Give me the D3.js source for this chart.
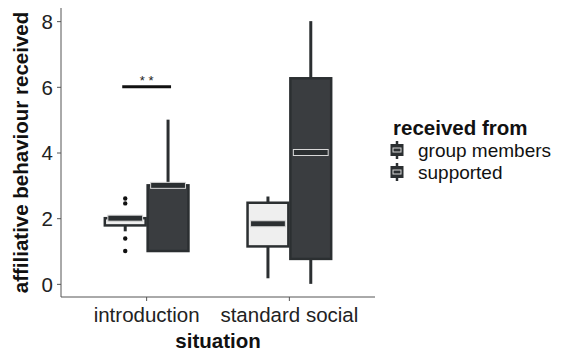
<!DOCTYPE html>
<html>
<head>
<meta charset="utf-8">
<script src="https://cdn.jsdelivr.net/npm/d3@7"></script>
<style>
  html, body { margin: 0; padding: 0; background: #ffffff; }
  svg { display: block; font-family: "Liberation Sans", Arial, sans-serif; }
</style>
</head>
<body>
<svg id="chart" width="568" height="353"></svg>
<script>
// Situations on the x axis and the two sources of affiliation
const situations = ["introduction", "standard social"];
const sources = ["group members", "supported"];

// Box summaries per situation, in the order of `sources`
const lowerWhisker = [[1.6, 1.0], [0.17, 0.0]];
const lowerQuartile = [[1.78, 1.0], [1.14, 0.76]];
const medians = [[2.0, 3.0], [1.83, 4.0]];
const upperQuartile = [[2.0, 3.0], [2.47, 6.26]];
const upperWhisker = [[2.0, 5.0], [2.66, 8.0]];
const outliers = [[[2.6, 2.45, 1.38, 1.0], []], [[], []]];

const yTicks = [0, 2, 4, 6, 8];
const significance = { situation: "introduction", level: 6, label: "* *" };

const fills = { "group members": "#efefef", "supported": "#3a3d40" };
const ink = "#2b2f31";
const fontSize = 20.5;

const svg = d3.select("#chart");
const margin = { left: 61, right: 193, top: 8, bottom: 56 };
const width = 568 - margin.left - margin.right;
const height = 353 - margin.top - margin.bottom;

const g = svg.append("g").attr("transform", `translate(${margin.left},${margin.top})`);

const y = d3.scaleLinear().domain([-0.4, 8.4]).range([height, 0]);
const x = d3.scaleBand().domain(situations).range([0, width]).paddingInner(0.4).paddingOuter(0.3);
// dodge within each situation
const xSub = d3.scaleBand().domain(sources).range([0, x.bandwidth()]).padding(0);

// Flatten box records
const boxes = [];
situations.forEach((s, i) => {
  sources.forEach((src, j) => {
    boxes.push({
      situation: s, source: src,
      lo: lowerWhisker[i][j], q1: lowerQuartile[i][j], med: medians[i][j],
      q3: upperQuartile[i][j], hi: upperWhisker[i][j], out: outliers[i][j]
    });
  });
});

const cx = d => x(d.situation) + xSub(d.source) + xSub.bandwidth() / 2;

// Axes
const yAxis = d3.axisLeft(y).tickValues(yTicks).tickSize(4).tickPadding(4);
const yg = g.append("g").call(yAxis);
yg.select(".domain").attr("d", `M0,0V${height}`).attr("stroke", "#555").attr("stroke-width", 1);
yg.selectAll(".tick line").attr("stroke", "#555");
yg.selectAll(".tick text").attr("font-size", fontSize).attr("fill", "#222").attr("dy", "0.36em");

const xAxis = d3.axisBottom(x).tickSize(4).tickPadding(4);
const xg = g.append("g").attr("transform", `translate(0,${height})`).call(xAxis);
xg.select(".domain").attr("d", `M0,0H${width}`).attr("stroke", "#555").attr("stroke-width", 1);
xg.selectAll(".tick line").attr("stroke", "#555");
xg.selectAll(".tick text").attr("font-size", fontSize).attr("fill", "#222")
  .attr("y", 322 - margin.top - height).attr("dy", null);

// Whiskers
const bw = xSub.bandwidth();
const boxG = g.append("g");
boxG.selectAll("line.whisker-hi").data(boxes).join("line")
  .attr("x1", cx).attr("x2", cx)
  .attr("y1", d => y(d.q3)).attr("y2", d => y(d.hi))
  .attr("stroke", ink).attr("stroke-width", 3);
boxG.selectAll("line.whisker-lo").data(boxes).join("line")
  .attr("x1", cx).attr("x2", cx)
  .attr("y1", d => y(d.q1)).attr("y2", d => y(d.lo))
  .attr("stroke", ink).attr("stroke-width", 3);

// Boxes
boxG.selectAll("rect.box").data(boxes).join("rect")
  .attr("x", d => cx(d) - bw / 2 + 1)
  .attr("width", bw - 2)
  .attr("y", d => y(d.q3))
  .attr("height", d => y(d.q1) - y(d.q3))
  .attr("fill", d => fills[d.source])
  .attr("stroke", ink).attr("stroke-width", 2.5);

// Median bars: dark core with a light rim
boxG.selectAll("rect.median").data(boxes).join("rect")
  .attr("x", d => cx(d) - bw / 2 + 4)
  .attr("width", bw - 8)
  .attr("y", d => y(d.med) - 3)
  .attr("height", 6)
  .attr("fill", ink)
  .attr("stroke", "#d8d8d8").attr("stroke-width", 1);

// Outliers
boxes.forEach(d => {
  boxG.selectAll(null).data(d.out).join("circle")
    .attr("cx", cx(d)).attr("cy", v => y(v)).attr("r", 2.2).attr("fill", "#111");
});

// Significance marker
const sigBoxes = boxes.filter(b => b.situation === significance.situation);
const sx1 = cx(sigBoxes[0]) - 3, sx2 = cx(sigBoxes[1]) + 3;
g.append("line")
  .attr("x1", sx1).attr("x2", sx2)
  .attr("y1", y(significance.level)).attr("y2", y(significance.level))
  .attr("stroke", "#111").attr("stroke-width", 3);
g.append("text")
  .attr("x", (sx1 + sx2) / 2).attr("y", y(significance.level) - 2)
  .attr("text-anchor", "middle").attr("font-size", 13).attr("fill", "#222")
  .text(significance.label);

// Axis titles
svg.append("text")
  .attr("x", margin.left + width / 2).attr("y", 348)
  .attr("text-anchor", "middle").attr("font-size", fontSize).attr("font-weight", "bold").attr("fill", "#111")
  .text("situation");
svg.append("text")
  .attr("transform", `translate(28,${margin.top + height / 2}) rotate(-90)`)
  .attr("text-anchor", "middle").attr("font-size", fontSize).attr("font-weight", "bold").attr("fill", "#111")
  .text("affiliative behaviour received");

// Legend
const legendFont = 19;
const lg = svg.append("g").attr("transform", "translate(390,0)");
lg.append("text").attr("x", 3).attr("y", 135)
  .attr("font-size", fontSize).attr("font-weight", "bold").attr("fill", "#111").text("received from");
sources.forEach((src, i) => {
  const top = 141 + i * 22;
  const k = lg.append("g").attr("transform", `translate(0,${top})`);
  k.append("line").attr("x1", 7).attr("x2", 7).attr("y1", 0).attr("y2", 18)
    .attr("stroke", ink).attr("stroke-width", 2.5);
  k.append("rect").attr("x", 1.5).attr("y", 4).attr("width", 11).attr("height", 10)
    .attr("fill", ink).attr("stroke", ink).attr("stroke-width", 2);
  k.append("rect").attr("x", 3).attr("y", 7).attr("width", 8).attr("height", 4)
    .attr("fill", ink).attr("stroke", "#d8d8d8").attr("stroke-width", 1);
  lg.append("text").attr("x", 28).attr("y", top + 15.5)
    .attr("font-size", legendFont).attr("fill", "#111").text(src);
});
</script>
</body>
</html>
